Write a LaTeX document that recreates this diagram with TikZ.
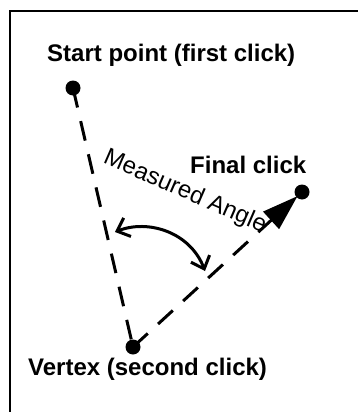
\documentclass[tikz,border=0pt]{standalone}
\usepackage{fontspec}
\setmainfont{Liberation Sans}
\usetikzlibrary{arrows.meta}
\tikzset{
  lbl/.style={font=\bfseries\fontsize{24}{28}\selectfont, inner sep=0pt, anchor=base west},
  clickdot/.style={circle, fill=black, minimum size=15pt, inner sep=0pt},
  dashline/.style={line width=3pt, dash pattern=on 20pt off 14pt},
  frameline/.style={line width=2.5pt},
  anglearrow/.style={line width=3pt, {Straight Barb[length=11pt,width=20pt,line width=3pt]}-{Straight Barb[length=11pt,width=20pt,line width=3pt]}}
}
\begin{document}
\begin{tikzpicture}[x=1pt,y=1pt]
\useasboundingbox (0,0) rectangle (357,-412);
\draw[frameline] (10,-430) -- (10,-11) -- (380,-11);
% points
\coordinate (S) at (73,-88);
\coordinate (V) at (133,-347);
\coordinate (F) at (302,-192);
\draw[dashline] (S) -- (V);
\draw[dashline, shorten >=6pt, -{Triangle[length=36pt,width=23pt]}] (V) -- (F);
\node[clickdot] (s) at (S) {};
\node[clickdot] (v) at (V) {};
\node[clickdot] (f) at (F) {};
% angle arrow
\coordinate (a1) at (115,-232);
\coordinate (a2) at (205,-271);
\draw[anglearrow] (a1) .. controls (148,-219) and (190,-232) .. (a2);
% labels
\node[lbl] (ts) at (47,-62) {Start point (first click)};
\node[lbl] (tf) at (190,-173) {Final click};
\node[lbl] (tv) at (28,-375) {Vertex (second click)};
\node[font=\fontsize{24}{28}\selectfont, inner sep=0pt, rotate=-23.5] (tm) at (185,-192) {Measured Angle};
\end{tikzpicture}
\end{document}
